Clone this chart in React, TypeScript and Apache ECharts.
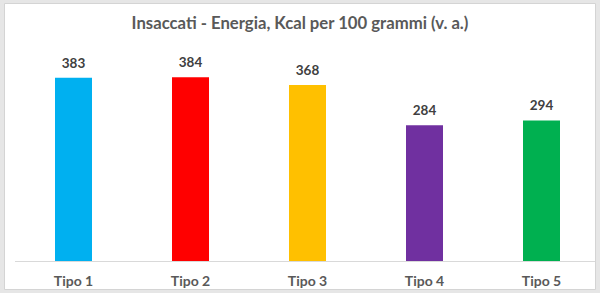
import React, { useEffect, useRef } from "react";
import * as echarts from "echarts";

const categories = ["Tipo 1", "Tipo 2", "Tipo 3", "Tipo 4", "Tipo 5"];
const values = [383, 384, 368, 284, 294];
const barColors = ["#00B0F0", "#FF0000", "#FFC000", "#7030A0", "#00B050"];
const titleText = "Insaccati - Energia, Kcal per 100 grammi (v. a.)";

export default function App() {
  const ref = useRef<HTMLDivElement>(null);
  useEffect(() => {
    document.body.style.margin = "0";
    const chart = echarts.init(ref.current!, null, { renderer: "svg" });
    chart.setOption({
      animation: false,
      backgroundColor: "#e6e6e6",
      graphic: [
        {
          type: "rect",
          z: -10,
          silent: true,
          shape: { x: 4.5, y: 3.5, width: 591, height: 286 },
          style: { fill: "#ffffff", stroke: "#d4d4d4", lineWidth: 1 },
        },
        {
          type: "line",
          z: 5,
          silent: true,
          shape: { x1: 15, y1: 261.5, x2: 595, y2: 261.5 },
          style: { stroke: "#d9d9d9", lineWidth: 1 },
        },
      ],
      title: {
        text: titleText,
        left: "center",
        top: 9,
        textStyle: {
          fontFamily: "Lato",
          fontSize: 16.7,
          fontWeight: "bold",
          color: "#595959",
        },
      },
      grid: { left: 15, right: -2, top: 45.7, bottom: 31.7, containLabel: false },
      xAxis: {
        type: "category",
        data: categories,
        axisLine: { show: false },
        axisTick: { show: false },
        axisLabel: {
          margin: 12,
          fontFamily: "Lato",
          fontSize: 14,
          fontWeight: "bold",
          color: "#595959",
        },
      },
      yAxis: {
        type: "value",
        min: 0,
        max: 450,
        show: false,
        splitLine: { show: false },
      },
      series: [
        {
          type: "bar",
          barWidth: 37,
          data: values.map((v, i) => ({ value: v, itemStyle: { color: barColors[i] } })),
          label: {
            show: true,
            position: "top",
            distance: 8,
            fontFamily: "Lato",
            fontSize: 13.5,
            fontWeight: "bold",
            color: "#404040",
          },
        },
      ],
    });
    return () => chart.dispose();
  }, []);
  return <div ref={ref} style={{ width: 600, height: 293 }} />;
}
